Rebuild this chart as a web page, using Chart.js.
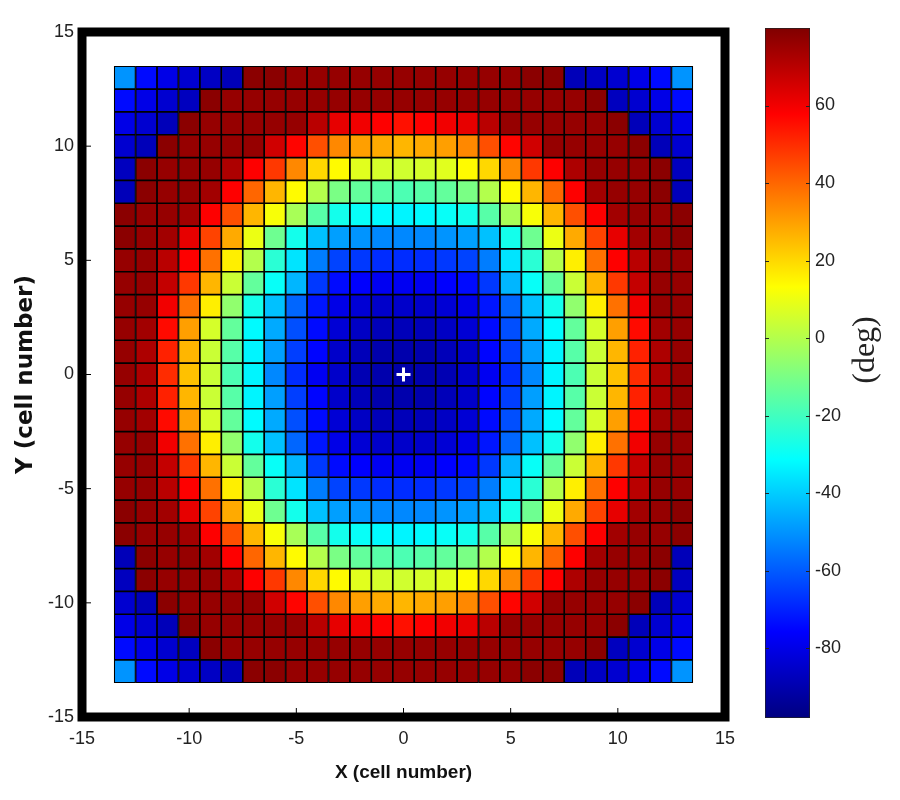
<!DOCTYPE html>
<html>
<head>
<meta charset="utf-8">
<title>Phase distribution</title>
<script src="https://cdn.jsdelivr.net/npm/chart.js@4.4.1/dist/chart.umd.min.js"></script>
<style>
  html, body { margin: 0; padding: 0; background: #fff; }
  #wrap { position: relative; width: 900px; height: 800px; }
  #mainChart { position: absolute; left: 0; top: 0; }
  #barChart { position: absolute; left: 740px; top: 0; }
</style>
</head>
<body>
<div id="wrap">
  <canvas id="mainChart" width="760" height="800"></canvas>
  <canvas id="barChart" width="160" height="800"></canvas>
</div>
<script>
// cell centres (cell number)
const xCells = [-13, -12, -11, -10, -9, -8, -7, -6, -5, -4, -3, -2, -1, 0, 1, 2, 3, 4, 5, 6, 7, 8, 9, 10, 11, 12, 13];
const yCells = [13, 12, 11, 10, 9, 8, 7, 6, 5, 4, 3, 2, 1, 0, -1, -2, -3, -4, -5, -6, -7, -8, -9, -10, -11, -12, -13];

// phase in deg, one row per yCells entry (top row first)
const phase = [
  [-50, -74, -80, -84, -86, -88, 78, 78, 76, 76, 76, 76, 76, 76, 76, 76, 76, 76, 76, 78, 78, -88, -86, -84, -80, -74, -50],
  [-74, -80, -84, -87, 78, 76, 76, 76, 76, 76, 76, 76, 76, 76, 76, 76, 76, 76, 76, 76, 76, 76, 78, -87, -84, -80, -74],
  [-80, -84, -88, 78, 76, 76, 76, 76, 76, 70, 62, 60, 58, 55, 58, 60, 62, 70, 76, 76, 76, 76, 76, 78, -88, -84, -80],
  [-84, -88, 78, 76, 76, 76, 76, 66, 57, 44, 34, 30, 28, 26, 28, 30, 34, 44, 57, 66, 76, 76, 76, 76, 78, -88, -84],
  [-87, 78, 76, 76, 76, 72, 58, 48, 34, 20, 14, 8, 6, 5, 6, 8, 14, 20, 34, 48, 58, 72, 76, 76, 76, 78, -87],
  [-88, 78, 76, 76, 74, 58, 40, 26, 14, 0, -10, -14, -16, -18, -16, -14, -10, 0, 14, 26, 40, 58, 74, 76, 76, 78, -88],
  [78, 76, 76, 74, 58, 44, 26, 12, -2, -16, -28, -30, -32, -33, -32, -30, -28, -16, -2, 12, 26, 44, 58, 74, 76, 76, 78],
  [78, 76, 74, 62, 46, 28, 10, -12, -28, -42, -48, -50, -52, -52, -52, -50, -48, -42, -28, -12, 10, 28, 46, 62, 74, 76, 78],
  [76, 76, 70, 58, 38, 16, 0, -24, -36, -54, -64, -66, -68, -68, -68, -66, -64, -54, -36, -24, 0, 16, 38, 58, 70, 76, 76],
  [76, 76, 68, 48, 26, 4, -14, -30, -44, -66, -74, -76, -78, -78, -78, -76, -74, -66, -44, -30, -14, 4, 26, 48, 68, 76, 76],
  [76, 76, 60, 38, 16, -6, -28, -42, -58, -72, -80, -83, -85, -85, -85, -83, -80, -72, -58, -42, -28, -6, 16, 38, 60, 76, 76],
  [76, 74, 56, 30, 6, -14, -32, -46, -62, -74, -83, -86, -88, -88, -88, -86, -83, -74, -62, -46, -32, -14, 6, 30, 56, 74, 76],
  [76, 72, 52, 26, 4, -16, -33, -48, -65, -75, -85, -88, -90, -90, -90, -88, -85, -75, -65, -48, -33, -16, 4, 26, 52, 72, 76],
  [76, 72, 50, 24, 4, -18, -33, -52, -68, -78, -85, -89, -90, -91, -90, -89, -85, -78, -68, -52, -33, -18, 4, 24, 50, 72, 76],
  [76, 72, 52, 26, 4, -16, -33, -48, -65, -75, -85, -88, -90, -90, -90, -88, -85, -75, -65, -48, -33, -16, 4, 26, 52, 72, 76],
  [76, 74, 56, 30, 6, -14, -32, -46, -62, -74, -83, -86, -88, -88, -88, -86, -83, -74, -62, -46, -32, -14, 6, 30, 56, 74, 76],
  [76, 76, 60, 38, 16, -6, -28, -42, -58, -72, -80, -83, -85, -85, -85, -83, -80, -72, -58, -42, -28, -6, 16, 38, 60, 76, 76],
  [76, 76, 68, 48, 26, 4, -14, -30, -44, -66, -74, -76, -78, -78, -78, -76, -74, -66, -44, -30, -14, 4, 26, 48, 68, 76, 76],
  [76, 76, 70, 58, 38, 16, 0, -24, -36, -54, -64, -66, -68, -68, -68, -66, -64, -54, -36, -24, 0, 16, 38, 58, 70, 76, 76],
  [78, 76, 74, 62, 46, 28, 10, -12, -28, -42, -48, -50, -52, -52, -52, -50, -48, -42, -28, -12, 10, 28, 46, 62, 74, 76, 78],
  [78, 76, 76, 74, 58, 44, 26, 12, -2, -16, -28, -30, -32, -33, -32, -30, -28, -16, -2, 12, 26, 44, 58, 74, 76, 76, 78],
  [-88, 78, 76, 76, 74, 58, 40, 26, 14, 0, -10, -14, -16, -18, -16, -14, -10, 0, 14, 26, 40, 58, 74, 76, 76, 78, -88],
  [-87, 78, 76, 76, 76, 72, 58, 48, 34, 20, 14, 8, 6, 5, 6, 8, 14, 20, 34, 48, 58, 72, 76, 76, 76, 78, -87],
  [-84, -88, 78, 76, 76, 76, 76, 66, 57, 44, 34, 30, 28, 26, 28, 30, 34, 44, 57, 66, 76, 76, 76, 76, 78, -88, -84],
  [-80, -84, -88, 78, 76, 76, 76, 76, 76, 70, 62, 60, 58, 55, 58, 60, 62, 70, 76, 76, 76, 76, 76, 78, -88, -84, -80],
  [-74, -80, -84, -87, 78, 76, 76, 76, 76, 76, 76, 76, 76, 76, 76, 76, 76, 76, 76, 76, 76, 76, 78, -87, -84, -80, -74],
  [-50, -74, -80, -84, -86, -88, 78, 78, 76, 76, 76, 76, 76, 76, 76, 76, 76, 76, 76, 78, 78, -88, -86, -84, -80, -74, -50]
];

const axisTicks = [-15, -10, -5, 0, 5, 10, 15];
const colorTicks = [-80, -60, -40, -20, 0, 20, 40, 60];
const phaseMin = -98;
const phaseMax = 80;
const feedPoint = [{ x: 0, y: 0 }];

// matlab style jet colormap
function jet(v) {
  const t = Math.min(1, Math.max(0, (v - phaseMin) / (phaseMax - phaseMin)));
  const ch = k => Math.round(255 * Math.min(1, Math.max(0, 1.5 - Math.abs(4 * t - k))));
  return 'rgb(' + ch(3) + ',' + ch(2) + ',' + ch(1) + ')';
}

function jetGradient(chart) {
  if (!chart.chartArea) return '#000';
  const ys = chart.scales.y;
  const g = chart.ctx.createLinearGradient(0, ys.getPixelForValue(phaseMin), 0, ys.getPixelForValue(phaseMax));
  for (let i = 0; i <= 8; i++) {
    g.addColorStop(i / 8, jet(phaseMin + (phaseMax - phaseMin) * i / 8));
  }
  return g;
}

const cells = [];
yCells.forEach((yv, r) => {
  xCells.forEach((xv, c) => {
    cells.push({ x: xv, y: [yv - 0.5, yv + 0.5], v: phase[r][c] });
  });
});

const tickFont = { family: '"Liberation Sans", Arial, sans-serif', size: 18 };

// thick black box round the plot, with small inward ticks
const frame = {
  id: 'frame',
  afterDraw(chart) {
    const { ctx, chartArea: a, scales } = chart;
    ctx.save();
    ctx.strokeStyle = '#000';
    ctx.lineWidth = 1;
    axisTicks.slice(1, -1).forEach(v => {
      const px = scales.x.getPixelForValue(v);
      const py = scales.y.getPixelForValue(v);
      ctx.beginPath();
      ctx.moveTo(px, a.bottom); ctx.lineTo(px, a.bottom - 9);
      ctx.moveTo(a.left, py); ctx.lineTo(a.left + 9, py);
      ctx.stroke();
    });
    ctx.lineWidth = 9;
    ctx.strokeRect(a.left, a.top, a.right - a.left, a.bottom - a.top);
    ctx.restore();
  }
};

// colorbar ticks on both edges and its label, read bottom to top
const barDecor = {
  id: 'barDecor',
  afterDraw(chart) {
    const { ctx, chartArea: a, scales } = chart;
    ctx.save();
    ctx.strokeStyle = '#222';
    ctx.lineWidth = 1;
    colorTicks.forEach(v => {
      const py = Math.round(scales.y.getPixelForValue(v)) + 0.5;
      ctx.beginPath();
      ctx.moveTo(a.left, py); ctx.lineTo(a.left + 4, py);
      ctx.moveTo(a.right, py); ctx.lineTo(a.right - 4, py);
      ctx.stroke();
    });
    ctx.translate(126, 350);
    ctx.rotate(-Math.PI / 2);
    ctx.font = '32px "Liberation Serif", "Times New Roman", serif';
    ctx.textAlign = 'center';
    ctx.textBaseline = 'middle';
    ctx.fillStyle = '#222';
    ctx.fillText('(deg)', 0, 0);
    ctx.restore();
  }
};

new Chart(document.getElementById('mainChart'), {
  type: 'bar',
  data: {
    datasets: [
      {
        type: 'scatter',
        data: feedPoint,
        pointStyle: 'cross',
        pointRadius: 7,
        borderWidth: 3,
        borderColor: '#fff',
        backgroundColor: '#fff',
        order: 0
      },
      {
        type: 'bar',
        data: cells,
        backgroundColor: c => (c.raw ? jet(c.raw.v) : '#000'),
        borderColor: '#000',
        borderWidth: 1.2,
        borderSkipped: false,
        barPercentage: 1,
        categoryPercentage: 1,
        order: 1
      }
    ]
  },
  options: {
    responsive: false,
    animation: false,
    events: [],
    layout: { padding: { left: 0, top: 32, right: 35, bottom: 0 } },
    plugins: {
      legend: { display: false },
      tooltip: { enabled: false }
    },
    scales: {
      x: {
        type: 'linear',
        min: -15,
        max: 15,
        offset: false,
        grid: { display: false, drawTicks: false, offset: false },
        border: { display: false },
        afterBuildTicks: s => { s.ticks = axisTicks.map(v => ({ value: v })); },
        afterFit: s => { s.height = 83; },
        ticks: { font: tickFont, color: '#222', padding: 11, maxRotation: 0, autoSkip: false },
        title: {
          display: true,
          text: 'X (cell number)',
          color: '#111',
          font: { family: '"Liberation Sans", Arial, sans-serif', size: 19, weight: 'bold' },
          padding: { bottom: 16 }
        }
      },
      y: {
        type: 'linear',
        min: -15,
        max: 15,
        grid: { display: false, drawTicks: false },
        border: { display: false },
        afterBuildTicks: s => { s.ticks = axisTicks.map(v => ({ value: v })); },
        afterFit: s => { s.width = 82; },
        ticks: { font: tickFont, color: '#222', padding: 8, autoSkip: false },
        title: {
          display: true,
          text: 'Y (cell number)',
          color: '#111',
          font: { family: '"DejaVu Sans", sans-serif', size: 23, weight: 'bold' },
          padding: { top: 12 }
        }
      }
    }
  },
  plugins: [frame]
});

new Chart(document.getElementById('barChart'), {
  type: 'bar',
  data: {
    labels: ['phase'],
    datasets: [{
      data: [[phaseMin, phaseMax]],
      backgroundColor: c => jetGradient(c.chart),
      borderColor: '#222',
      borderWidth: 1,
      borderSkipped: false,
      barPercentage: 1,
      categoryPercentage: 1
    }]
  },
  options: {
    responsive: false,
    animation: false,
    events: [],
    layout: { padding: { left: 25, top: 28, right: 30, bottom: 82 } },
    plugins: {
      legend: { display: false },
      tooltip: { enabled: false }
    },
    scales: {
      x: { display: false },
      y: {
        position: 'right',
        min: phaseMin,
        max: phaseMax,
        grid: { display: false, drawTicks: false },
        border: { display: false },
        afterBuildTicks: s => { s.ticks = colorTicks.map(v => ({ value: v })); },
        afterFit: s => { s.width = 60; },
        ticks: { font: tickFont, color: '#222', padding: 5 }
      }
    }
  },
  plugins: [barDecor]
});
</script>
</body>
</html>
